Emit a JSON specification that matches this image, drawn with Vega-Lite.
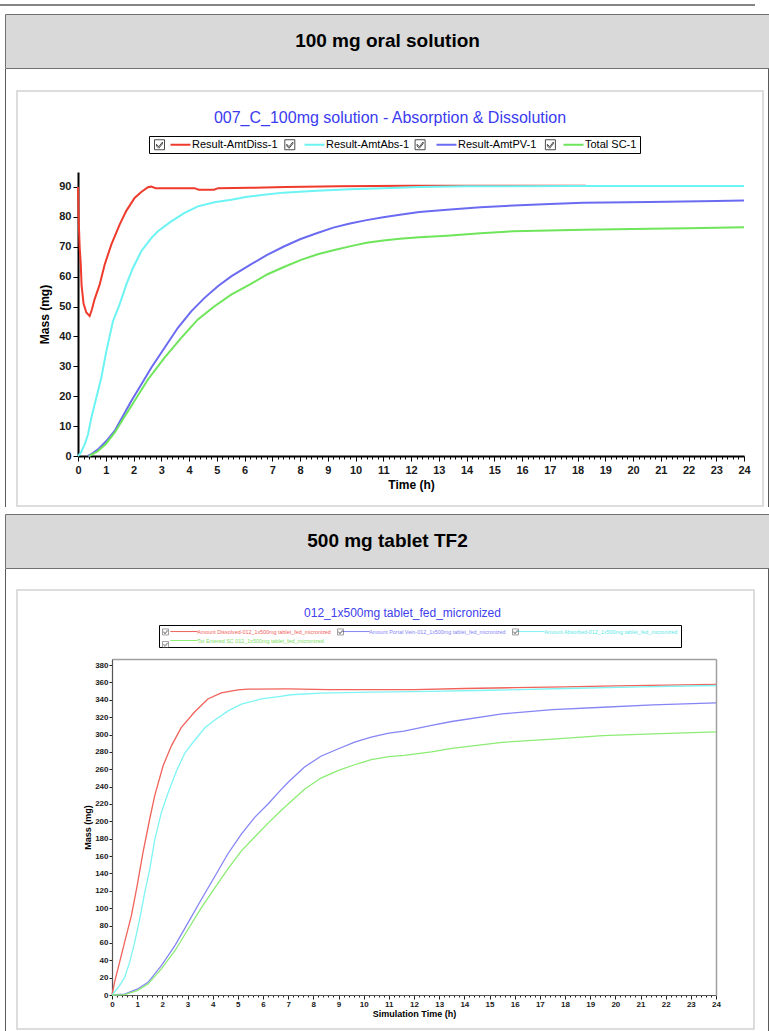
{
  "$schema": "https://vega.github.io/schema/vega-lite/v6.json",
  "background": "white",
  "padding": {"left": 0, "top": 4, "right": 0, "bottom": 0},
  "spacing": 0,
  "resolve": {"scale": {"color": "independent", "shape": "independent"}, "legend": {"color": "independent", "shape": "independent"}},
  "config": {
    "view": {"stroke": null},
    "axis": {"grid": false, "labelFont": "Liberation Sans", "titleFont": "Liberation Sans"},
    "legend": {"labelFont": "Liberation Sans"},
    "title": {"font": "Liberation Sans"},
    "text": {"font": "Liberation Sans"}
  },
  "datasets": {
    "oral_solution_100mg": [
      {"series": "Result-AmtDiss-1", "time_h": 0, "mass_mg": 90},
      {"series": "Result-AmtDiss-1", "time_h": 0.02, "mass_mg": 80},
      {"series": "Result-AmtDiss-1", "time_h": 0.06, "mass_mg": 70},
      {"series": "Result-AmtDiss-1", "time_h": 0.1, "mass_mg": 64},
      {"series": "Result-AmtDiss-1", "time_h": 0.13, "mass_mg": 57},
      {"series": "Result-AmtDiss-1", "time_h": 0.2, "mass_mg": 51},
      {"series": "Result-AmtDiss-1", "time_h": 0.3, "mass_mg": 48},
      {"series": "Result-AmtDiss-1", "time_h": 0.42, "mass_mg": 46.8},
      {"series": "Result-AmtDiss-1", "time_h": 0.5, "mass_mg": 49},
      {"series": "Result-AmtDiss-1", "time_h": 0.6, "mass_mg": 52.5},
      {"series": "Result-AmtDiss-1", "time_h": 0.78, "mass_mg": 57.3},
      {"series": "Result-AmtDiss-1", "time_h": 0.96, "mass_mg": 64},
      {"series": "Result-AmtDiss-1", "time_h": 1.2, "mass_mg": 70.7},
      {"series": "Result-AmtDiss-1", "time_h": 1.5, "mass_mg": 77.4},
      {"series": "Result-AmtDiss-1", "time_h": 1.74, "mass_mg": 82},
      {"series": "Result-AmtDiss-1", "time_h": 2.04, "mass_mg": 86.3},
      {"series": "Result-AmtDiss-1", "time_h": 2.28, "mass_mg": 88.3},
      {"series": "Result-AmtDiss-1", "time_h": 2.52, "mass_mg": 89.9},
      {"series": "Result-AmtDiss-1", "time_h": 2.64, "mass_mg": 90.1},
      {"series": "Result-AmtDiss-1", "time_h": 2.8, "mass_mg": 89.6},
      {"series": "Result-AmtDiss-1", "time_h": 4.2, "mass_mg": 89.6},
      {"series": "Result-AmtDiss-1", "time_h": 4.35, "mass_mg": 89.1},
      {"series": "Result-AmtDiss-1", "time_h": 4.9, "mass_mg": 89.1},
      {"series": "Result-AmtDiss-1", "time_h": 5.05, "mass_mg": 89.6},
      {"series": "Result-AmtDiss-1", "time_h": 6.2, "mass_mg": 89.7},
      {"series": "Result-AmtDiss-1", "time_h": 7.5, "mass_mg": 90},
      {"series": "Result-AmtDiss-1", "time_h": 9.4, "mass_mg": 90.2},
      {"series": "Result-AmtDiss-1", "time_h": 11.9, "mass_mg": 90.4},
      {"series": "Result-AmtDiss-1", "time_h": 18.3, "mass_mg": 90.4},

      {"series": "Result-AmtAbs-1", "time_h": 0, "mass_mg": 0},
      {"series": "Result-AmtAbs-1", "time_h": 0.1, "mass_mg": 1},
      {"series": "Result-AmtAbs-1", "time_h": 0.24, "mass_mg": 3.9},
      {"series": "Result-AmtAbs-1", "time_h": 0.36, "mass_mg": 7.2},
      {"series": "Result-AmtAbs-1", "time_h": 0.48, "mass_mg": 12.8},
      {"series": "Result-AmtAbs-1", "time_h": 0.66, "mass_mg": 19.5},
      {"series": "Result-AmtAbs-1", "time_h": 0.84, "mass_mg": 26.2},
      {"series": "Result-AmtAbs-1", "time_h": 1.02, "mass_mg": 35},
      {"series": "Result-AmtAbs-1", "time_h": 1.26, "mass_mg": 45.1},
      {"series": "Result-AmtAbs-1", "time_h": 1.5, "mass_mg": 50.7},
      {"series": "Result-AmtAbs-1", "time_h": 1.74, "mass_mg": 57.3},
      {"series": "Result-AmtAbs-1", "time_h": 1.98, "mass_mg": 62.9},
      {"series": "Result-AmtAbs-1", "time_h": 2.28, "mass_mg": 68.5},
      {"series": "Result-AmtAbs-1", "time_h": 2.64, "mass_mg": 72.9},
      {"series": "Result-AmtAbs-1", "time_h": 2.88, "mass_mg": 75.2},
      {"series": "Result-AmtAbs-1", "time_h": 3.36, "mass_mg": 78.5},
      {"series": "Result-AmtAbs-1", "time_h": 3.84, "mass_mg": 81.3},
      {"series": "Result-AmtAbs-1", "time_h": 4.32, "mass_mg": 83.5},
      {"series": "Result-AmtAbs-1", "time_h": 4.92, "mass_mg": 84.9},
      {"series": "Result-AmtAbs-1", "time_h": 5.52, "mass_mg": 85.7},
      {"series": "Result-AmtAbs-1", "time_h": 6.1, "mass_mg": 86.7},
      {"series": "Result-AmtAbs-1", "time_h": 6.7, "mass_mg": 87.4},
      {"series": "Result-AmtAbs-1", "time_h": 7.4, "mass_mg": 88.1},
      {"series": "Result-AmtAbs-1", "time_h": 8.6, "mass_mg": 88.7},
      {"series": "Result-AmtAbs-1", "time_h": 9.8, "mass_mg": 89.2},
      {"series": "Result-AmtAbs-1", "time_h": 11, "mass_mg": 89.6},
      {"series": "Result-AmtAbs-1", "time_h": 12.3, "mass_mg": 90},
      {"series": "Result-AmtAbs-1", "time_h": 14, "mass_mg": 90.2},
      {"series": "Result-AmtAbs-1", "time_h": 18, "mass_mg": 90.3},
      {"series": "Result-AmtAbs-1", "time_h": 24, "mass_mg": 90.3},

      {"series": "Result-AmtPV-1", "time_h": 0.35, "mass_mg": 0},
      {"series": "Result-AmtPV-1", "time_h": 0.5, "mass_mg": 0.7},
      {"series": "Result-AmtPV-1", "time_h": 0.72, "mass_mg": 2.2},
      {"series": "Result-AmtPV-1", "time_h": 1.02, "mass_mg": 5},
      {"series": "Result-AmtPV-1", "time_h": 1.32, "mass_mg": 8.4},
      {"series": "Result-AmtPV-1", "time_h": 1.62, "mass_mg": 13.4},
      {"series": "Result-AmtPV-1", "time_h": 1.92, "mass_mg": 18.4},
      {"series": "Result-AmtPV-1", "time_h": 2.28, "mass_mg": 23.9},
      {"series": "Result-AmtPV-1", "time_h": 2.64, "mass_mg": 29.5},
      {"series": "Result-AmtPV-1", "time_h": 3.12, "mass_mg": 36.2},
      {"series": "Result-AmtPV-1", "time_h": 3.6, "mass_mg": 42.9},
      {"series": "Result-AmtPV-1", "time_h": 4.08, "mass_mg": 48.4},
      {"series": "Result-AmtPV-1", "time_h": 4.56, "mass_mg": 52.9},
      {"series": "Result-AmtPV-1", "time_h": 5.04, "mass_mg": 56.8},
      {"series": "Result-AmtPV-1", "time_h": 5.52, "mass_mg": 60.1},
      {"series": "Result-AmtPV-1", "time_h": 6.2, "mass_mg": 63.9},
      {"series": "Result-AmtPV-1", "time_h": 6.8, "mass_mg": 67.2},
      {"series": "Result-AmtPV-1", "time_h": 7.4, "mass_mg": 70},
      {"series": "Result-AmtPV-1", "time_h": 8, "mass_mg": 72.5},
      {"series": "Result-AmtPV-1", "time_h": 8.6, "mass_mg": 74.5},
      {"series": "Result-AmtPV-1", "time_h": 9.2, "mass_mg": 76.4},
      {"series": "Result-AmtPV-1", "time_h": 9.8, "mass_mg": 77.8},
      {"series": "Result-AmtPV-1", "time_h": 10.4, "mass_mg": 78.9},
      {"series": "Result-AmtPV-1", "time_h": 11, "mass_mg": 79.9},
      {"series": "Result-AmtPV-1", "time_h": 11.6, "mass_mg": 80.7},
      {"series": "Result-AmtPV-1", "time_h": 12.3, "mass_mg": 81.6},
      {"series": "Result-AmtPV-1", "time_h": 13.3, "mass_mg": 82.4},
      {"series": "Result-AmtPV-1", "time_h": 14.5, "mass_mg": 83.2},
      {"series": "Result-AmtPV-1", "time_h": 15.7, "mass_mg": 83.8},
      {"series": "Result-AmtPV-1", "time_h": 17, "mass_mg": 84.3},
      {"series": "Result-AmtPV-1", "time_h": 18.2, "mass_mg": 84.7},
      {"series": "Result-AmtPV-1", "time_h": 20.6, "mass_mg": 85},
      {"series": "Result-AmtPV-1", "time_h": 23, "mass_mg": 85.3},
      {"series": "Result-AmtPV-1", "time_h": 24, "mass_mg": 85.5},

      {"series": "Total SC-1", "time_h": 0.4, "mass_mg": 0},
      {"series": "Total SC-1", "time_h": 0.7, "mass_mg": 1.5},
      {"series": "Total SC-1", "time_h": 1, "mass_mg": 4},
      {"series": "Total SC-1", "time_h": 1.32, "mass_mg": 7.8},
      {"series": "Total SC-1", "time_h": 1.62, "mass_mg": 12.3},
      {"series": "Total SC-1", "time_h": 1.96, "mass_mg": 17.3},
      {"series": "Total SC-1", "time_h": 2.52, "mass_mg": 25.6},
      {"series": "Total SC-1", "time_h": 3.12, "mass_mg": 32.9},
      {"series": "Total SC-1", "time_h": 3.72, "mass_mg": 39.5},
      {"series": "Total SC-1", "time_h": 4.32, "mass_mg": 45.7},
      {"series": "Total SC-1", "time_h": 4.92, "mass_mg": 50.1},
      {"series": "Total SC-1", "time_h": 5.52, "mass_mg": 54},
      {"series": "Total SC-1", "time_h": 6.2, "mass_mg": 57.4},
      {"series": "Total SC-1", "time_h": 6.83, "mass_mg": 60.8},
      {"series": "Total SC-1", "time_h": 7.44, "mass_mg": 63.3},
      {"series": "Total SC-1", "time_h": 8.04, "mass_mg": 65.6},
      {"series": "Total SC-1", "time_h": 8.64, "mass_mg": 67.5},
      {"series": "Total SC-1", "time_h": 9.24, "mass_mg": 68.9},
      {"series": "Total SC-1", "time_h": 9.84, "mass_mg": 70.2},
      {"series": "Total SC-1", "time_h": 10.4, "mass_mg": 71.3},
      {"series": "Total SC-1", "time_h": 11, "mass_mg": 72.1},
      {"series": "Total SC-1", "time_h": 11.6, "mass_mg": 72.7},
      {"series": "Total SC-1", "time_h": 12.3, "mass_mg": 73.2},
      {"series": "Total SC-1", "time_h": 13.3, "mass_mg": 73.7},
      {"series": "Total SC-1", "time_h": 14.5, "mass_mg": 74.5},
      {"series": "Total SC-1", "time_h": 15.7, "mass_mg": 75.2},
      {"series": "Total SC-1", "time_h": 18.2, "mass_mg": 75.7},
      {"series": "Total SC-1", "time_h": 20.6, "mass_mg": 76},
      {"series": "Total SC-1", "time_h": 22, "mass_mg": 76.2},
      {"series": "Total SC-1", "time_h": 24, "mass_mg": 76.5}
    ],
    "tablet_500mg_tf2": [
      {"series": "Amount Dissolved-012_1x500mg tablet_fed_micronized", "time_h": 0, "mass_mg": 0},
      {"series": "Amount Dissolved-012_1x500mg tablet_fed_micronized", "time_h": 0.1, "mass_mg": 14.6},
      {"series": "Amount Dissolved-012_1x500mg tablet_fed_micronized", "time_h": 0.3, "mass_mg": 37.6},
      {"series": "Amount Dissolved-012_1x500mg tablet_fed_micronized", "time_h": 0.5, "mass_mg": 60.7},
      {"series": "Amount Dissolved-012_1x500mg tablet_fed_micronized", "time_h": 0.77, "mass_mg": 91.4},
      {"series": "Amount Dissolved-012_1x500mg tablet_fed_micronized", "time_h": 1, "mass_mg": 126},
      {"series": "Amount Dissolved-012_1x500mg tablet_fed_micronized", "time_h": 1.23, "mass_mg": 164},
      {"series": "Amount Dissolved-012_1x500mg tablet_fed_micronized", "time_h": 1.5, "mass_mg": 203},
      {"series": "Amount Dissolved-012_1x500mg tablet_fed_micronized", "time_h": 1.7, "mass_mg": 230},
      {"series": "Amount Dissolved-012_1x500mg tablet_fed_micronized", "time_h": 2.03, "mass_mg": 264},
      {"series": "Amount Dissolved-012_1x500mg tablet_fed_micronized", "time_h": 2.36, "mass_mg": 287},
      {"series": "Amount Dissolved-012_1x500mg tablet_fed_micronized", "time_h": 2.75, "mass_mg": 308},
      {"series": "Amount Dissolved-012_1x500mg tablet_fed_micronized", "time_h": 3.28, "mass_mg": 326},
      {"series": "Amount Dissolved-012_1x500mg tablet_fed_micronized", "time_h": 3.81, "mass_mg": 341},
      {"series": "Amount Dissolved-012_1x500mg tablet_fed_micronized", "time_h": 4.34, "mass_mg": 348},
      {"series": "Amount Dissolved-012_1x500mg tablet_fed_micronized", "time_h": 5, "mass_mg": 351.5},
      {"series": "Amount Dissolved-012_1x500mg tablet_fed_micronized", "time_h": 5.4, "mass_mg": 352.3},
      {"series": "Amount Dissolved-012_1x500mg tablet_fed_micronized", "time_h": 7, "mass_mg": 352.5},
      {"series": "Amount Dissolved-012_1x500mg tablet_fed_micronized", "time_h": 8.6, "mass_mg": 351.7},
      {"series": "Amount Dissolved-012_1x500mg tablet_fed_micronized", "time_h": 12, "mass_mg": 351.8},
      {"series": "Amount Dissolved-012_1x500mg tablet_fed_micronized", "time_h": 14, "mass_mg": 353},
      {"series": "Amount Dissolved-012_1x500mg tablet_fed_micronized", "time_h": 16, "mass_mg": 354},
      {"series": "Amount Dissolved-012_1x500mg tablet_fed_micronized", "time_h": 18, "mass_mg": 355},
      {"series": "Amount Dissolved-012_1x500mg tablet_fed_micronized", "time_h": 20, "mass_mg": 356},
      {"series": "Amount Dissolved-012_1x500mg tablet_fed_micronized", "time_h": 22, "mass_mg": 357},
      {"series": "Amount Dissolved-012_1x500mg tablet_fed_micronized", "time_h": 24, "mass_mg": 357.7},

      {"series": "Amount Portal Vein-012_1x500mg tablet_fed_micronized", "time_h": 0, "mass_mg": 0},
      {"series": "Amount Portal Vein-012_1x500mg tablet_fed_micronized", "time_h": 0.5, "mass_mg": 1},
      {"series": "Amount Portal Vein-012_1x500mg tablet_fed_micronized", "time_h": 1, "mass_mg": 6.7},
      {"series": "Amount Portal Vein-012_1x500mg tablet_fed_micronized", "time_h": 1.43, "mass_mg": 14.6},
      {"series": "Amount Portal Vein-012_1x500mg tablet_fed_micronized", "time_h": 1.96, "mass_mg": 33.8},
      {"series": "Amount Portal Vein-012_1x500mg tablet_fed_micronized", "time_h": 2.5, "mass_mg": 56.8},
      {"series": "Amount Portal Vein-012_1x500mg tablet_fed_micronized", "time_h": 3.03, "mass_mg": 83.7},
      {"series": "Amount Portal Vein-012_1x500mg tablet_fed_micronized", "time_h": 3.56, "mass_mg": 110.6},
      {"series": "Amount Portal Vein-012_1x500mg tablet_fed_micronized", "time_h": 4.1, "mass_mg": 137.4},
      {"series": "Amount Portal Vein-012_1x500mg tablet_fed_micronized", "time_h": 4.6, "mass_mg": 162.4},
      {"series": "Amount Portal Vein-012_1x500mg tablet_fed_micronized", "time_h": 5.14, "mass_mg": 185.4},
      {"series": "Amount Portal Vein-012_1x500mg tablet_fed_micronized", "time_h": 5.67, "mass_mg": 204.6},
      {"series": "Amount Portal Vein-012_1x500mg tablet_fed_micronized", "time_h": 6.2, "mass_mg": 220},
      {"series": "Amount Portal Vein-012_1x500mg tablet_fed_micronized", "time_h": 6.7, "mass_mg": 236},
      {"series": "Amount Portal Vein-012_1x500mg tablet_fed_micronized", "time_h": 7, "mass_mg": 245},
      {"series": "Amount Portal Vein-012_1x500mg tablet_fed_micronized", "time_h": 7.65, "mass_mg": 262.6},
      {"series": "Amount Portal Vein-012_1x500mg tablet_fed_micronized", "time_h": 8.3, "mass_mg": 275},
      {"series": "Amount Portal Vein-012_1x500mg tablet_fed_micronized", "time_h": 9, "mass_mg": 283.6},
      {"series": "Amount Portal Vein-012_1x500mg tablet_fed_micronized", "time_h": 9.64, "mass_mg": 291.3},
      {"series": "Amount Portal Vein-012_1x500mg tablet_fed_micronized", "time_h": 10.3, "mass_mg": 297.1},
      {"series": "Amount Portal Vein-012_1x500mg tablet_fed_micronized", "time_h": 11, "mass_mg": 301.7},
      {"series": "Amount Portal Vein-012_1x500mg tablet_fed_micronized", "time_h": 11.6, "mass_mg": 304},
      {"series": "Amount Portal Vein-012_1x500mg tablet_fed_micronized", "time_h": 12.7, "mass_mg": 310.6},
      {"series": "Amount Portal Vein-012_1x500mg tablet_fed_micronized", "time_h": 13.5, "mass_mg": 315},
      {"series": "Amount Portal Vein-012_1x500mg tablet_fed_micronized", "time_h": 15.5, "mass_mg": 323.7},
      {"series": "Amount Portal Vein-012_1x500mg tablet_fed_micronized", "time_h": 17.5, "mass_mg": 328.8},
      {"series": "Amount Portal Vein-012_1x500mg tablet_fed_micronized", "time_h": 19.5, "mass_mg": 331.4},
      {"series": "Amount Portal Vein-012_1x500mg tablet_fed_micronized", "time_h": 21.5, "mass_mg": 334.2},
      {"series": "Amount Portal Vein-012_1x500mg tablet_fed_micronized", "time_h": 24, "mass_mg": 336.5},

      {"series": "Amount Absorbed-012_1x500mg tablet_fed_micronized", "time_h": 0, "mass_mg": 0},
      {"series": "Amount Absorbed-012_1x500mg tablet_fed_micronized", "time_h": 0.3, "mass_mg": 10.7},
      {"series": "Amount Absorbed-012_1x500mg tablet_fed_micronized", "time_h": 0.5, "mass_mg": 20.2},
      {"series": "Amount Absorbed-012_1x500mg tablet_fed_micronized", "time_h": 0.7, "mass_mg": 37.5},
      {"series": "Amount Absorbed-012_1x500mg tablet_fed_micronized", "time_h": 0.9, "mass_mg": 60.6},
      {"series": "Amount Absorbed-012_1x500mg tablet_fed_micronized", "time_h": 1.1, "mass_mg": 87.5},
      {"series": "Amount Absorbed-012_1x500mg tablet_fed_micronized", "time_h": 1.3, "mass_mg": 118},
      {"series": "Amount Absorbed-012_1x500mg tablet_fed_micronized", "time_h": 1.5, "mass_mg": 145},
      {"series": "Amount Absorbed-012_1x500mg tablet_fed_micronized", "time_h": 1.7, "mass_mg": 179},
      {"series": "Amount Absorbed-012_1x500mg tablet_fed_micronized", "time_h": 1.96, "mass_mg": 210},
      {"series": "Amount Absorbed-012_1x500mg tablet_fed_micronized", "time_h": 2.23, "mass_mg": 233},
      {"series": "Amount Absorbed-012_1x500mg tablet_fed_micronized", "time_h": 2.56, "mass_mg": 258},
      {"series": "Amount Absorbed-012_1x500mg tablet_fed_micronized", "time_h": 2.9, "mass_mg": 279},
      {"series": "Amount Absorbed-012_1x500mg tablet_fed_micronized", "time_h": 3.3, "mass_mg": 294},
      {"series": "Amount Absorbed-012_1x500mg tablet_fed_micronized", "time_h": 3.7, "mass_mg": 308},
      {"series": "Amount Absorbed-012_1x500mg tablet_fed_micronized", "time_h": 4.1, "mass_mg": 317},
      {"series": "Amount Absorbed-012_1x500mg tablet_fed_micronized", "time_h": 4.6, "mass_mg": 327},
      {"series": "Amount Absorbed-012_1x500mg tablet_fed_micronized", "time_h": 5.14, "mass_mg": 335},
      {"series": "Amount Absorbed-012_1x500mg tablet_fed_micronized", "time_h": 5.93, "mass_mg": 341},
      {"series": "Amount Absorbed-012_1x500mg tablet_fed_micronized", "time_h": 6.7, "mass_mg": 344},
      {"series": "Amount Absorbed-012_1x500mg tablet_fed_micronized", "time_h": 7.1, "mass_mg": 345.8},
      {"series": "Amount Absorbed-012_1x500mg tablet_fed_micronized", "time_h": 8.3, "mass_mg": 347.8},
      {"series": "Amount Absorbed-012_1x500mg tablet_fed_micronized", "time_h": 10.3, "mass_mg": 348.9},
      {"series": "Amount Absorbed-012_1x500mg tablet_fed_micronized", "time_h": 12.7, "mass_mg": 349.7},
      {"series": "Amount Absorbed-012_1x500mg tablet_fed_micronized", "time_h": 15, "mass_mg": 351},
      {"series": "Amount Absorbed-012_1x500mg tablet_fed_micronized", "time_h": 18, "mass_mg": 353},
      {"series": "Amount Absorbed-012_1x500mg tablet_fed_micronized", "time_h": 21, "mass_mg": 355},
      {"series": "Amount Absorbed-012_1x500mg tablet_fed_micronized", "time_h": 24, "mass_mg": 356.5},

      {"series": "Tot Entered SC 012_1x500mg tablet_fed_micronized", "time_h": 0, "mass_mg": 0},
      {"series": "Tot Entered SC 012_1x500mg tablet_fed_micronized", "time_h": 0.5, "mass_mg": 0.5},
      {"series": "Tot Entered SC 012_1x500mg tablet_fed_micronized", "time_h": 1, "mass_mg": 5},
      {"series": "Tot Entered SC 012_1x500mg tablet_fed_micronized", "time_h": 1.43, "mass_mg": 12.6},
      {"series": "Tot Entered SC 012_1x500mg tablet_fed_micronized", "time_h": 1.96, "mass_mg": 30},
      {"series": "Tot Entered SC 012_1x500mg tablet_fed_micronized", "time_h": 2.5, "mass_mg": 51},
      {"series": "Tot Entered SC 012_1x500mg tablet_fed_micronized", "time_h": 3.03, "mass_mg": 76},
      {"series": "Tot Entered SC 012_1x500mg tablet_fed_micronized", "time_h": 3.56, "mass_mg": 101},
      {"series": "Tot Entered SC 012_1x500mg tablet_fed_micronized", "time_h": 4.1, "mass_mg": 124},
      {"series": "Tot Entered SC 012_1x500mg tablet_fed_micronized", "time_h": 4.6, "mass_mg": 145},
      {"series": "Tot Entered SC 012_1x500mg tablet_fed_micronized", "time_h": 5.14, "mass_mg": 166},
      {"series": "Tot Entered SC 012_1x500mg tablet_fed_micronized", "time_h": 5.67, "mass_mg": 182},
      {"series": "Tot Entered SC 012_1x500mg tablet_fed_micronized", "time_h": 6.2, "mass_mg": 198},
      {"series": "Tot Entered SC 012_1x500mg tablet_fed_micronized", "time_h": 6.7, "mass_mg": 212},
      {"series": "Tot Entered SC 012_1x500mg tablet_fed_micronized", "time_h": 7, "mass_mg": 220},
      {"series": "Tot Entered SC 012_1x500mg tablet_fed_micronized", "time_h": 7.65, "mass_mg": 237},
      {"series": "Tot Entered SC 012_1x500mg tablet_fed_micronized", "time_h": 8.3, "mass_mg": 249.9},
      {"series": "Tot Entered SC 012_1x500mg tablet_fed_micronized", "time_h": 9, "mass_mg": 258.7},
      {"series": "Tot Entered SC 012_1x500mg tablet_fed_micronized", "time_h": 9.64, "mass_mg": 265.2},
      {"series": "Tot Entered SC 012_1x500mg tablet_fed_micronized", "time_h": 10.3, "mass_mg": 271},
      {"series": "Tot Entered SC 012_1x500mg tablet_fed_micronized", "time_h": 11, "mass_mg": 274.5},
      {"series": "Tot Entered SC 012_1x500mg tablet_fed_micronized", "time_h": 11.6, "mass_mg": 276},
      {"series": "Tot Entered SC 012_1x500mg tablet_fed_micronized", "time_h": 12.7, "mass_mg": 280},
      {"series": "Tot Entered SC 012_1x500mg tablet_fed_micronized", "time_h": 13.5, "mass_mg": 284},
      {"series": "Tot Entered SC 012_1x500mg tablet_fed_micronized", "time_h": 15.5, "mass_mg": 291},
      {"series": "Tot Entered SC 012_1x500mg tablet_fed_micronized", "time_h": 17.5, "mass_mg": 294.8},
      {"series": "Tot Entered SC 012_1x500mg tablet_fed_micronized", "time_h": 19.5, "mass_mg": 298.7},
      {"series": "Tot Entered SC 012_1x500mg tablet_fed_micronized", "time_h": 21.5, "mass_mg": 300.7},
      {"series": "Tot Entered SC 012_1x500mg tablet_fed_micronized", "time_h": 24, "mass_mg": 303}
    ]
  },
  "vconcat": [
    {"width": 755, "height": 2, "view": {"fill": "#858585", "stroke": null},
     "data": {"values": []}, "mark": "text", "encoding": {"text": {"field": "note"}}},
    {"width": 755, "height": 7,
     "data": {"values": []}, "mark": "text", "encoding": {"text": {"field": "note"}}},
    {"hconcat": [
      {"width": 4, "height": 54, "data": {"values": []}, "mark": "text", "encoding": {"text": {"field": "note"}}},
      {"width": 765, "height": 54, "view": {"fill": "#d9d9d9", "stroke": "#707070"},
       "data": {"values": [{"label": "100 mg oral solution"}]},
       "mark": {"type": "text", "font": "Liberation Sans", "fontWeight": "bold", "fontSize": 19, "color": "#000000"},
       "encoding": {"text": {"field": "label"}}}
    ], "spacing": 0},
    {"hconcat": [
      {"width": 5, "height": 438, "data": {"values": []}, "mark": "text", "encoding": {"text": {"field": "note"}}},
      {"width": 1, "height": 438, "view": {"fill": "#5a5a5a", "stroke": null}, "data": {"values": []}, "mark": "text", "encoding": {"text": {"field": "note"}}},
      {"width": 10, "height": 438, "data": {"values": []}, "mark": "text", "encoding": {"text": {"field": "note"}}},
      {"vconcat": [
        {"width": 746, "height": 21, "data": {"values": []}, "mark": "text", "encoding": {"text": {"field": "note"}}},
        {
          "width": 746, "height": 415,
          "view": {"stroke": "#d2d2d2", "strokeWidth": 1.5, "fill": "#ffffff"},
          "title": {"text": "007_C_100mg solution - Absorption & Dissolution", "anchor": "middle", "frame": "group", "offset": -43, "baseline": "middle", "font": "Liberation Sans", "fontSize": 16, "fontWeight": "normal", "color": "#3b3bf0"},
          "data": {"name": "oral_solution_100mg"},
          "layer": [
            {
              "mark": {"type": "line", "strokeWidth": 2},
              "encoding": {
                "x": {"field": "time_h", "type": "quantitative",
                  "scale": {"domain": [0, 24], "range": [61, 727], "nice": false, "zero": false},
                  "axis": {"title": "Time (h)", "orient": "bottom", "offset": -50, "domainColor": "#000000", "domainWidth": 2,
                    "tickColor": "#000000", "tickCount": 120,
                    "tickSize": {"condition": {"test": "datum.value % 1 === 0", "value": 5}, "value": 3},
                    "labelExpr": "datum.value % 1 === 0 ? '' + datum.value : ''",
                    "labelOverlap": false, "labelFlush": false, "labelFontWeight": "bold", "labelFontSize": 11, "labelColor": "#1a1a1a", "labelPadding": 3,
                    "titleFontWeight": "bold", "titleFontSize": 12, "titleColor": "#000000", "titlePadding": 4}},
                "y": {"field": "mass_mg", "type": "quantitative",
                  "scale": {"domain": [0, 95], "range": [365, 81], "nice": false},
                  "axis": {"title": "Mass (mg)", "orient": "left", "offset": -61, "domainColor": "#000000", "domainWidth": 2,
                    "tickColor": "#000000", "tickCount": 10, "tickSize": 5,
                    "labelFontWeight": "bold", "labelFontSize": 11, "labelColor": "#1a1a1a", "labelPadding": 2,
                    "titleFontWeight": "bold", "titleFontSize": 12, "titleColor": "#000000", "titlePadding": 7}},
                "color": {"field": "series", "type": "nominal",
                  "scale": {"domain": ["Result-AmtDiss-1", "Result-AmtAbs-1", "Result-AmtPV-1", "Total SC-1"],
                            "range": ["#ef3b2c", "#6cf3f3", "#6b6bf2", "#6ee55a"]},
                  "legend": {"title": null, "orient": "none", "legendX": 132, "legendY": 45, "direction": "horizontal",
                    "symbolType": "M-5,0H5", "symbolSize": 16, "symbolStrokeWidth": 2, "symbolOffset": 23,
                    "labelFontSize": 11, "labelColor": "#000000", "labelOffset": 6, "labelLimit": 300,
                    "columnPadding": 8, "padding": 3, "strokeColor": "#000000", "fillColor": "#ffffff"}}
              }
            },
            {
              "transform": [{"filter": "false"}],
              "mark": {"type": "point", "filled": false, "color": "#000000"},
              "encoding": {
                "x": {"field": "time_h", "type": "quantitative"},
                "y": {"field": "mass_mg", "type": "quantitative"},
                "shape": {"field": "series", "type": "nominal",
                  "scale": {"domain": ["Result-AmtDiss-1", "Result-AmtAbs-1", "Result-AmtPV-1", "Total SC-1", ""],
                    "range": [
                      "M-1,-1H1V1H-1Z M-0.6,-0.1L-0.15,0.4L0.6,-0.55L0.6,-0.2L-0.15,0.7L-0.6,0.25Z",
                      "M-1,-1H1V1H-1Z M-0.6,-0.1L-0.15,0.4L0.6,-0.55L0.6,-0.2L-0.15,0.7L-0.6,0.25Z",
                      "M-1,-1H1V1H-1Z M-0.6,-0.1L-0.15,0.4L0.6,-0.55L0.6,-0.2L-0.15,0.7L-0.6,0.25Z",
                      "M-1,-1H1V1H-1Z M-0.6,-0.1L-0.15,0.4L0.6,-0.55L0.6,-0.2L-0.15,0.7L-0.6,0.25Z",
                      "M-1,-1H1V1H-1Z"]},
                  "legend": {"title": null, "values": ["Result-AmtDiss-1", "Result-AmtAbs-1", "Result-AmtPV-1", "Total SC-1"],
                    "orient": "none", "legendX": 132, "legendY": 45, "direction": "horizontal",
                    "symbolSize": 100, "symbolStrokeWidth": 1, "symbolStrokeColor": "#000000", "symbolFillColor": "transparent", "symbolOffset": 2,
                    "labelExpr": "''", "labelFontSize": 11, "labelOffset": 0,
                    "columnPadding": 115.3, "padding": 3}}
              }
            }
          ]
        }
      ], "spacing": 0, "resolve": {"scale": {"color": "independent", "shape": "independent"}, "legend": {"color": "independent", "shape": "independent"}}},
      {"width": 4, "height": 438, "data": {"values": []}, "mark": "text", "encoding": {"text": {"field": "note"}}},
      {"width": 1, "height": 438, "view": {"fill": "#5a5a5a", "stroke": null}, "data": {"values": []}, "mark": "text", "encoding": {"text": {"field": "note"}}}
    ], "spacing": 0, "resolve": {"scale": {"color": "independent", "shape": "independent"}, "legend": {"color": "independent", "shape": "independent"}}},
    {"width": 755, "height": 6,
     "data": {"values": []}, "mark": "text", "encoding": {"text": {"field": "note"}}},
    {"hconcat": [
      {"width": 4, "height": 54, "data": {"values": []}, "mark": "text", "encoding": {"text": {"field": "note"}}},
      {"width": 765, "height": 54, "view": {"fill": "#d9d9d9", "stroke": "#707070"},
       "data": {"values": [{"label": "500 mg tablet TF2"}]},
       "mark": {"type": "text", "font": "Liberation Sans", "fontWeight": "bold", "fontSize": 19, "color": "#000000"},
       "encoding": {"text": {"field": "label"}}}
    ], "spacing": 0},
    {"hconcat": [
      {"width": 5, "height": 464, "data": {"values": []}, "mark": "text", "encoding": {"text": {"field": "note"}}},
      {"width": 1, "height": 464, "view": {"fill": "#5a5a5a", "stroke": null}, "data": {"values": []}, "mark": "text", "encoding": {"text": {"field": "note"}}},
      {"width": 10, "height": 464, "data": {"values": []}, "mark": "text", "encoding": {"text": {"field": "note"}}},
      {"vconcat": [
        {"width": 737, "height": 20, "data": {"values": []}, "mark": "text", "encoding": {"text": {"field": "note"}}},
        {
          "width": 737, "height": 439,
          "view": {"stroke": "#d2d2d2", "strokeWidth": 1.5, "fill": "#ffffff"},
          "title": {"text": "012_1x500mg tablet_fed_micronized", "anchor": "middle", "frame": "group", "offset": -35, "dx": 17, "baseline": "middle", "font": "Liberation Sans", "fontSize": 12, "fontWeight": "normal", "color": "#4040ec"},
          "data": {"name": "tablet_500mg_tf2"},
          "resolve": {"axis": {"x": "independent", "y": "independent"}},
          "layer": [
            {
              "mark": {"type": "line", "strokeWidth": 1.3},
              "encoding": {
                "x": {"field": "time_h", "type": "quantitative",
                  "scale": {"domain": [0, 24], "range": [95, 699], "nice": false, "zero": false},
                  "axis": {"title": "Simulation Time (h)", "orient": "bottom", "offset": -34, "domainColor": "#555555", "domainWidth": 1.2,
                    "tickColor": "#222222", "tickCount": 120,
                    "tickSize": {"condition": {"test": "datum.value % 1 === 0", "value": 4}, "value": 2},
                    "labelExpr": "datum.value % 1 === 0 ? '' + datum.value : ''",
                    "labelOverlap": false, "labelFlush": false, "labelFontWeight": "bold", "labelFontSize": 8, "labelColor": "#1a1a1a", "labelPadding": 1,
                    "titleFontWeight": "bold", "titleFontSize": 9, "titleColor": "#000000", "titlePadding": 1}},
                "y": {"field": "mass_mg", "type": "quantitative",
                  "scale": {"domain": [0, 387], "range": [405, 69], "nice": false},
                  "axis": {"title": "Mass (mg)", "orient": "left", "offset": -95, "domainColor": "#555555", "domainWidth": 1.2,
                    "tickColor": "#222222", "tickCount": 19, "tickSize": 3,
                    "labelFontWeight": "bold", "labelFontSize": 8, "labelColor": "#1a1a1a", "labelPadding": 1,
                    "titleFontWeight": "bold", "titleFontSize": 9, "titleColor": "#000000", "titlePadding": 2}},
                "color": {"field": "series", "type": "nominal",
                  "scale": {"domain": [
                    "Amount Dissolved-012_1x500mg tablet_fed_micronized",
                    "Amount Portal Vein-012_1x500mg tablet_fed_micronized",
                    "Amount Absorbed-012_1x500mg tablet_fed_micronized",
                    "Tot Entered SC 012_1x500mg tablet_fed_micronized"],
                    "range": ["#f0625a", "#8585f5", "#7ef4f4", "#8cec74"]},
                  "legend": {"title": null, "orient": "none", "legendX": 142, "legendY": 35, "direction": "horizontal", "columns": 3,
                    "symbolType": "M-5,0H5", "symbolSize": 30, "symbolStrokeWidth": 1, "symbolOffset": 18.5,
                    "labelFontSize": 5.4, "labelOffset": 9.7, "labelLimit": 300,
                    "labelColor": {"expr": "indexof(datum.label, 'Dissolved') >= 0 ? '#f0625a' : indexof(datum.label, 'Portal') >= 0 ? '#8585f5' : indexof(datum.label, 'Absorbed') >= 0 ? '#5ee8e8' : '#7ee066'"},
                    "columnPadding": 3, "rowPadding": 2, "padding": 3, "strokeColor": "#000000", "fillColor": "#ffffff"}}
              }
            },
            {
              "transform": [{"filter": "false"}],
              "mark": {"type": "point", "filled": false, "color": "#000000"},
              "encoding": {
                "x": {"field": "time_h", "type": "quantitative",
                  "axis": {"title": null, "orient": "top", "offset": -69, "domainColor": "#a0a0a0", "domainWidth": 1.5, "ticks": false, "labels": false}},
                "y": {"field": "mass_mg", "type": "quantitative",
                  "axis": {"title": null, "orient": "right", "offset": -38, "domainColor": "#a0a0a0", "domainWidth": 1.5, "ticks": false, "labels": false}},
                "shape": {"field": "series", "type": "nominal",
                  "scale": {"domain": [
                    "Amount Dissolved-012_1x500mg tablet_fed_micronized",
                    "Amount Portal Vein-012_1x500mg tablet_fed_micronized",
                    "Amount Absorbed-012_1x500mg tablet_fed_micronized",
                    "Tot Entered SC 012_1x500mg tablet_fed_micronized", ""],
                    "range": [
                      "M-1,-1H1V1H-1Z M-0.6,-0.1L-0.15,0.4L0.6,-0.55L0.6,-0.2L-0.15,0.7L-0.6,0.25Z",
                      "M-1,-1H1V1H-1Z M-0.6,-0.1L-0.15,0.4L0.6,-0.55L0.6,-0.2L-0.15,0.7L-0.6,0.25Z",
                      "M-1,-1H1V1H-1Z M-0.6,-0.1L-0.15,0.4L0.6,-0.55L0.6,-0.2L-0.15,0.7L-0.6,0.25Z",
                      "M-1,-1H1V1H-1Z M-0.6,-0.1L-0.15,0.4L0.6,-0.55L0.6,-0.2L-0.15,0.7L-0.6,0.25Z",
                      "M-1,-1H1V1H-1Z"]},
                  "legend": {"title": null, "values": [
                    "Amount Dissolved-012_1x500mg tablet_fed_micronized",
                    "Amount Portal Vein-012_1x500mg tablet_fed_micronized",
                    "Amount Absorbed-012_1x500mg tablet_fed_micronized",
                    "Tot Entered SC 012_1x500mg tablet_fed_micronized"],
                    "orient": "none", "legendX": 142, "legendY": 35, "direction": "horizontal", "columns": 3,
                    "symbolSize": 36, "symbolStrokeWidth": 0.8, "symbolStrokeColor": "#555555", "symbolFillColor": "transparent", "symbolOffset": 0,
                    "labelExpr": "''", "labelFontSize": 5.4, "labelOffset": 0,
                    "columnPadding": 164, "rowPadding": 2, "padding": 3}}
              }
            }
          ]
        }
      ], "spacing": 0, "resolve": {"scale": {"color": "independent", "shape": "independent"}, "legend": {"color": "independent", "shape": "independent"}}},
      {"width": 13, "height": 464, "data": {"values": []}, "mark": "text", "encoding": {"text": {"field": "note"}}},
      {"width": 1, "height": 464, "view": {"fill": "#5a5a5a", "stroke": null}, "data": {"values": []}, "mark": "text", "encoding": {"text": {"field": "note"}}}
    ], "spacing": 0, "resolve": {"scale": {"color": "independent", "shape": "independent"}, "legend": {"color": "independent", "shape": "independent"}}}
  ]
}
